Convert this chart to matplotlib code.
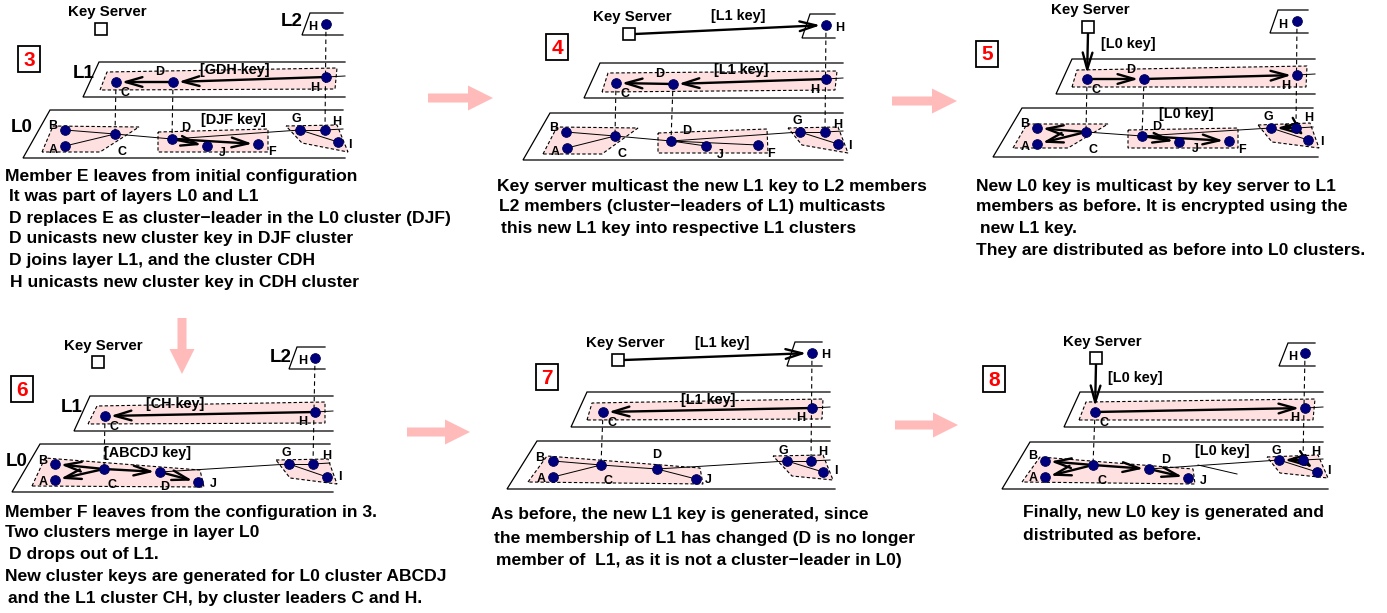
import matplotlib
matplotlib.use('Agg')
import matplotlib.pyplot as plt
from matplotlib.patches import Polygon, Rectangle, FancyArrow

plt.rcParams['font.family'] = ['Liberation Sans', 'DejaVu Sans']

W, H = 1387, 613
PINK = '#fde0df'
NAVY = '#00007f'
BIGPINK = '#ffbaba'
BOLD_HEAD = '->,head_length=1.2,head_width=0.35'

# ---- panel data (pixel coordinates of the original figure) ----
# nodes: key -> (x, y, label, label_x, label_y)
p3_nodes = {
    'L2H': (326, 24, 'H', 313, 27),
    'L1C': (116, 82, 'C', 125, 93), 'L1D': (173, 82, 'D', 160, 72), 'L1H': (326, 77, 'H', 315, 88),
    'B': (65, 130, 'B', 53, 126), 'A': (65, 146, 'A', 53, 150), 'C': (115, 134, 'C', 122, 152),
    'D': (172, 139, 'D', 186, 128), 'J': (207, 146, 'J', 222, 153), 'F': (258, 144, 'F', 272, 152),
    'G': (300, 130, 'G', 296, 119), 'H': (325, 130, 'H', 337, 122), 'I': (338, 142, 'I', 350, 145),
}
p4_nodes = {
    'L2H': (826, 25, 'H', 840, 28),
    'L1C': (616, 83, 'C', 625, 94), 'L1D': (673, 84, 'D', 660, 74), 'L1H': (826, 79, 'H', 815, 90),
    'B': (566, 132, 'B', 554, 128), 'A': (567, 148, 'A', 555, 152), 'C': (615, 136, 'C', 622, 154),
    'D': (671, 141, 'D', 687, 131), 'J': (706, 146, 'J', 720, 155), 'F': (758, 145, 'F', 771, 154),
    'G': (800, 132, 'G', 797, 121), 'H': (825, 132, 'H', 838, 125), 'I': (838, 144, 'I', 850, 146),
}
p5_nodes = {
    'L2H': (1297, 21, 'H', 1283, 25),
    'L1C': (1087, 79, 'C', 1096, 90), 'L1D': (1144, 79, 'D', 1131, 70), 'L1H': (1297, 75, 'H', 1286, 86),
    'B': (1037, 128, 'B', 1025, 124), 'A': (1037, 144, 'A', 1025, 147), 'C': (1086, 132, 'C', 1093, 150),
    'D': (1142, 136, 'D', 1157, 127), 'J': (1179, 142, 'J', 1195, 149), 'F': (1229, 141, 'F', 1242, 150),
    'G': (1271, 128, 'G', 1268, 117), 'H': (1296, 128, 'H', 1309, 118), 'I': (1308, 140, 'I', 1322, 142),
}
p6_nodes = {
    'L2H': (315, 358, 'H', 303, 361),
    'L1C': (105, 416, 'C', 114, 427), 'L1H': (315, 412, 'H', 303, 422),
    'B': (55, 464, 'B', 43, 461), 'A': (55, 480, 'A', 43, 482), 'C': (104, 469, 'C', 112, 485),
    'D': (160, 472, 'D', 165, 487), 'J': (198, 482, 'J', 213, 484),
    'G': (289, 464, 'G', 286, 453), 'H': (313, 464, 'H', 327, 456), 'I': (327, 477, 'I', 340, 477),
}
p7_nodes = {
    'L2H': (812, 353, 'H', 826, 355),
    'L1C': (603, 412, 'C', 612, 423), 'L1H': (812, 408, 'H', 801, 418),
    'B': (553, 461, 'B', 540, 458), 'A': (553, 477, 'A', 541, 479), 'C': (601, 465, 'C', 608, 481),
    'D': (657, 469, 'D', 657, 455), 'J': (696, 479, 'J', 708, 480),
    'G': (787, 461, 'G', 783, 451), 'H': (811, 461, 'H', 823, 452), 'I': (823, 472, 'I', 836, 471),
}
p8_nodes = {
    'L2H': (1305, 353, 'H', 1293, 357),
    'L1C': (1095, 412, 'C', 1104, 423), 'L1H': (1305, 408, 'H', 1295, 418),
    'B': (1045, 461, 'B', 1033, 456), 'A': (1045, 477, 'A', 1033, 478), 'C': (1093, 465, 'C', 1102, 481),
    'D': (1149, 469, 'D', 1166, 460), 'J': (1188, 478, 'J', 1203, 481),
    'G': (1279, 460, 'G', 1276, 451), 'H': (1303, 460, 'H', 1316, 452), 'I': (1317, 472, 'I', 1329, 471),
}

# planes: (top-left, top-right, bottom-left, bottom-right)
p3_planes = [((310, 13), (343, 13), (302, 35), (343, 35)),
             ((99, 62), (345, 62), (83, 97), (345, 97)),
             ((50, 110), (343, 110), (23, 158), (345, 158))]
p4_planes = [((810, 14), (835, 14), (802, 38), (835, 38)),
             ((600, 63), (843, 63), (584, 98), (843, 98)),
             ((550, 113), (843, 113), (523, 160), (843, 160))]
p5_planes = [((1278, 10), (1308, 10), (1270, 33), (1308, 33)),
             ((1072, 59), (1315, 59), (1056, 94), (1315, 94)),
             ((1022, 108), (1313, 108), (993, 157), (1318, 157))]
p6_planes = [((297, 347), (325, 347), (289, 369), (325, 369)),
             ((90, 396), (333, 396), (74, 431), (333, 431)),
             ((40, 444), (330, 444), (12, 492), (333, 492))]
p7_planes = [((795, 342), (822, 342), (787, 366), (822, 366)),
             ((587, 392), (830, 392), (571, 427), (830, 427)),
             ((537, 441), (830, 441), (507, 489), (835, 489))]
p8_planes = [((1288, 343), (1315, 343), (1279, 366), (1315, 366)),
             ((1080, 392), (1323, 392), (1064, 427), (1323, 427)),
             ((1030, 442), (1323, 442), (1002, 489), (1328, 489))]

# dashed cluster outlines
p3_clusters = [[(100, 90), (107, 72), (337, 68), (335, 89)],
               [(42, 152), (53, 126), (139, 127), (100, 152)],
               [(158, 132), (268, 129), (268, 152), (158, 152)],
               [(286, 126), (337, 125), (348, 152), (302, 143)]]
p4_clusters = [[(602, 92), (608, 73), (837, 71), (835, 90)],
               [(543, 154), (557, 127), (638, 128), (602, 154)],
               [(658, 133), (767, 129), (768, 153), (658, 153)],
               [(788, 128), (838, 127), (848, 153), (802, 145)]]
p5_clusters = [[(1072, 87), (1077, 70), (1307, 66), (1306, 87)],
               [(1013, 148), (1027, 124), (1108, 124), (1068, 148)],
               [(1128, 130), (1238, 128), (1238, 148), (1128, 148)],
               [(1258, 125), (1310, 123), (1319, 148), (1272, 142)]]
p6_clusters = [[(88, 424), (97, 406), (325, 402), (325, 423)],
               [(32, 486), (45, 458), (200, 470), (204, 487)],
               [(276, 460), (328, 459), (337, 484), (290, 478)]]
p7_clusters = [[(587, 420), (592, 403), (823, 399), (822, 419)],
               [(528, 482), (547, 456), (700, 468), (703, 484)],
               [(773, 456), (823, 455), (833, 480), (792, 476)]]
p8_clusters = [[(1079, 420), (1086, 402), (1315, 399), (1313, 420)],
               [(1022, 482), (1040, 457), (1193, 469), (1195, 484)],
               [(1267, 457), (1318, 455), (1328, 478), (1280, 473)]]

# thin links, bold arrows, dashed verticals
p3_links = [('B', 'C'), ('A', 'C'), ('C', 'D'), ('D', 'G'), ('G', 'H'), ('G', 'I')]
p3_arrows = [('L1H', 'L1D'), ('L1D', 'L1C'), ('D', 'J'), ('D', 'F')]
p3_drops = [('L1C', 'C'), ('L1D', 'D'), ('L2H', 'H')]
p4_links = [('B', 'C'), ('A', 'C'), ('C', 'D'), ('D', 'J'), ('D', 'F'), ('D', 'G'), ('G', 'H'), ('G', 'I')]
p4_arrows = [('L1H', 'L1D'), ('L1D', 'L1C')]
p4_drops = p3_drops
p5_links = [('C', 'D'), ('D', 'G'), ('G', 'I')]
p5_arrows = [('L1C', 'L1D'), ('L1D', 'L1H'), ('C', 'B'), ('C', 'A'), ('D', 'J'), ('D', 'F'),
             ('H', 'G'), ('H', 'I')]
p5_drops = p3_drops
p6_links = [('D', 'G'), ('G', 'H'), ('G', 'I')]
p6_arrows = [('L1H', 'L1C'), ('C', 'B'), ('C', 'A'), ('C', 'D'), ('D', 'J')]
p6_drops = [('L1C', 'C'), ('L2H', 'H')]
p7_links = [('B', 'C'), ('A', 'C'), ('C', 'D'), ('D', 'J'), ('D', 'G'), ('G', 'H'), ('G', 'I')]
p7_arrows = [('L1H', 'L1C')]
p7_drops = p6_drops
p8_links = [('D', 'G'), ('G', 'I')]
p8_arrows = [('L1C', 'L1H'), ('C', 'B'), ('C', 'A'), ('C', 'D'), ('D', 'J'), ('H', 'G'), ('H', 'I')]
p8_drops = p6_drops

# key server: (text x, text y, box centre x, box centre y, send-to node)
p3_server = (107, 12, 101, 29, None)
p4_server = (632, 17, 629, 34, 'L2H')
p5_server = (1090, 10, 1088, 27, 'L1C')
p6_server = (103, 346, 98, 362, None)
p7_server = (625, 343, 618, 360, 'L2H')
p8_server = (1102, 342, 1096, 358, 'L1C')

# panel number boxes: (number, centre x, centre y)
p3_num = ('3', 29, 59)
p4_num = ('4', 557, 47)
p5_num = ('5', 987, 54)
p6_num = ('6', 22, 389)
p7_num = ('7', 547, 377)
p8_num = ('8', 994, 379)

# key labels: (text, x, y)
p3_keys = [('[GDH key]', 235, 70), ('[DJF key]', 233, 120)]
p4_keys = [('[L1 key]', 738, 16), ('[L1 key]', 741, 70)]
p5_keys = [('[L0 key]', 1128, 44), ('[L0 key]', 1186, 114)]
p6_keys = [('[CH key]', 175, 404), ('[ABCDJ key]', 148, 453)]
p7_keys = [('[L1 key]', 722, 343), ('[L1 key]', 708, 400)]
p8_keys = [('[L0 key]', 1135, 378), ('[L0 key]', 1222, 451)]

# layer names: (text, x, y)
p3_layers = [('L2', 292, 22), ('L1', 84, 73), ('L0', 22, 127)]
p6_layers = [('L2', 281, 357), ('L1', 72, 408), ('L0', 17, 462)]

# captions: (text, x, y)
p3_text = [('Member E leaves from initial configuration', 5, 176),
           ('It was part of layers L0 and L1', 9, 197),
           ('D replaces E as cluster\u2212leader in the L0 cluster (DJF)', 9, 218),
           ('D unicasts new cluster key in DJF cluster', 9, 239),
           ('D joins layer L1, and the cluster CDH', 9, 260),
           ('H unicasts new cluster key in CDH cluster', 10, 282)]
p4_text = [('Key server multicast the new L1 key to L2 members', 497, 186),
           ('L2 members (cluster\u2212leaders of L1) multicasts', 499, 207),
           ('this new L1 key into respective L1 clusters', 501, 229)]
p5_text = [('New L0 key is multicast by key server to L1', 976, 186),
           ('members as before. It is encrypted using the', 976, 207),
           ('new L1 key.', 980, 229),
           ('They are distributed as before into L0 clusters.', 976, 251)]
p6_text = [('Member F leaves from the configuration in 3.', 5, 512),
           ('Two clusters merge in layer L0', 5, 533),
           ('D drops out of L1.', 9, 554),
           ('New cluster keys are generated for L0 cluster ABCDJ', 5, 577),
           ('and the L1 cluster CH, by cluster leaders C and H.', 8, 598)]
p7_text = [('As before, the new L1 key is generated, since', 491, 515),
           ('the membership of L1 has changed (D is no longer', 494, 538),
           ('member of  L1, as it is not a cluster\u2212leader in L0)', 496, 561)]
p8_text = [('Finally, new L0 key is generated and', 1023, 513),
           ('distributed as before.', 1023, 536)]

# extra stray segment in panel 8
p8_extra = [((1198, 465), (1237, 474))]

# big pink transition arrows: (x0, y0, x1, y1)
big_arrows = [(428, 98, 493, 98), (892, 101, 957, 101), (182, 318, 182, 374),
              (407, 432, 470, 432), (895, 425, 958, 425)]


def draw_panel(ax, nodes, planes, clusters, links, arrows, drops, server, num, keys,
               layers, text, extra=()):
    for tl, tr, bl, br in planes:
        ax.plot([tr[0], tl[0], bl[0], br[0]], [tr[1], tl[1], bl[1], br[1]],
                color='black', lw=0.9, zorder=1, solid_joinstyle='miter')
    for pts in clusters:
        ax.add_patch(Polygon(pts, closed=True, fc=PINK, ec='black', lw=0.8,
                             ls=(0, (3, 2)), zorder=2))
    # links off to the right edge of the layer
    for key, plane in (('L1H', planes[1]), ('H', planes[2])):
        x, y = nodes[key][:2]
        ax.plot([x, plane[1][0]], [y, y - 1], color='black', lw=0.7, zorder=3)
    for a, b in links:
        ax.plot([nodes[a][0], nodes[b][0]], [nodes[a][1], nodes[b][1]],
                color='black', lw=0.7, zorder=3)
    for p, q in extra:
        ax.plot([p[0], q[0]], [p[1], q[1]], color='black', lw=0.7, zorder=3)
    for a, b in drops:
        ax.plot([nodes[a][0], nodes[b][0]], [nodes[a][1], nodes[b][1]],
                color='black', lw=0.8, ls=(0, (4, 3)), zorder=3)
    for a, b in arrows:
        ax.annotate('', xy=nodes[b][:2], xytext=nodes[a][:2],
                    arrowprops=dict(arrowstyle=BOLD_HEAD, lw=1.7, color='black',
                                    shrinkA=0, shrinkB=4), zorder=4)
    for x, y, lab, lx, ly in nodes.values():
        ax.plot(x, y, 'o', ms=7, mfc=NAVY, mec='#000050', mew=0.6, zorder=5)
        ax.text(lx, ly, lab, fontsize=9, fontweight='bold', ha='center', va='center', zorder=6)

    tx, ty, bx, by, target = server
    ax.text(tx, ty, 'Key Server', fontsize=10.8, fontweight='bold', ha='center', va='center')
    ax.add_patch(Rectangle((bx - 6, by - 6), 12, 12, fc='white', ec='black', lw=1.2, zorder=6))
    if target is not None:
        tgt = nodes[target][:2]
        start = (bx + 6, by) if target == 'L2H' else (bx, by + 6)
        ax.annotate('', xy=tgt, xytext=start,
                    arrowprops=dict(arrowstyle=BOLD_HEAD, lw=1.7, color='black',
                                    shrinkA=0, shrinkB=4), zorder=4)

    n, nx, ny = num
    ax.add_patch(Rectangle((nx - 11, ny - 13), 22, 26, fc='white', ec='black', lw=1.3, zorder=6))
    ax.text(nx, ny + 1, n, fontsize=15, fontweight='bold', color='#ff0000',
            ha='center', va='center', zorder=7)

    for s, x, y in keys:
        ax.text(x, y, s, fontsize=10.4, fontweight='bold', ha='center', va='center', zorder=6)
    for s, x, y in layers:
        ax.text(x, y, s, fontsize=13.5, fontweight='bold', ha='center', va='center', zorder=6)
    for s, x, y in text:
        ax.text(x, y, s, fontsize=12.6, fontweight='bold', ha='left', va='center')


fig = plt.figure(figsize=(W / 100, H / 100), dpi=100)
ax = fig.add_axes([0, 0, 1, 1])
ax.set_xlim(0, W)
ax.set_ylim(H, 0)
ax.axis('off')

draw_panel(ax, p3_nodes, p3_planes, p3_clusters, p3_links, p3_arrows, p3_drops,
           p3_server, p3_num, p3_keys, p3_layers, p3_text)
draw_panel(ax, p4_nodes, p4_planes, p4_clusters, p4_links, p4_arrows, p4_drops,
           p4_server, p4_num, p4_keys, [], p4_text)
draw_panel(ax, p5_nodes, p5_planes, p5_clusters, p5_links, p5_arrows, p5_drops,
           p5_server, p5_num, p5_keys, [], p5_text)
draw_panel(ax, p6_nodes, p6_planes, p6_clusters, p6_links, p6_arrows, p6_drops,
           p6_server, p6_num, p6_keys, p6_layers, p6_text)
draw_panel(ax, p7_nodes, p7_planes, p7_clusters, p7_links, p7_arrows, p7_drops,
           p7_server, p7_num, p7_keys, [], p7_text)
draw_panel(ax, p8_nodes, p8_planes, p8_clusters, p8_links, p8_arrows, p8_drops,
           p8_server, p8_num, p8_keys, [], p8_text, extra=p8_extra)

for x0, y0, x1, y1 in big_arrows:
    ax.add_patch(FancyArrow(x0, y0, x1 - x0, y1 - y0, width=9, head_width=25,
                            head_length=25, length_includes_head=True,
                            color=BIGPINK, lw=0, zorder=0))

fig.savefig('out.png', dpi=100)
